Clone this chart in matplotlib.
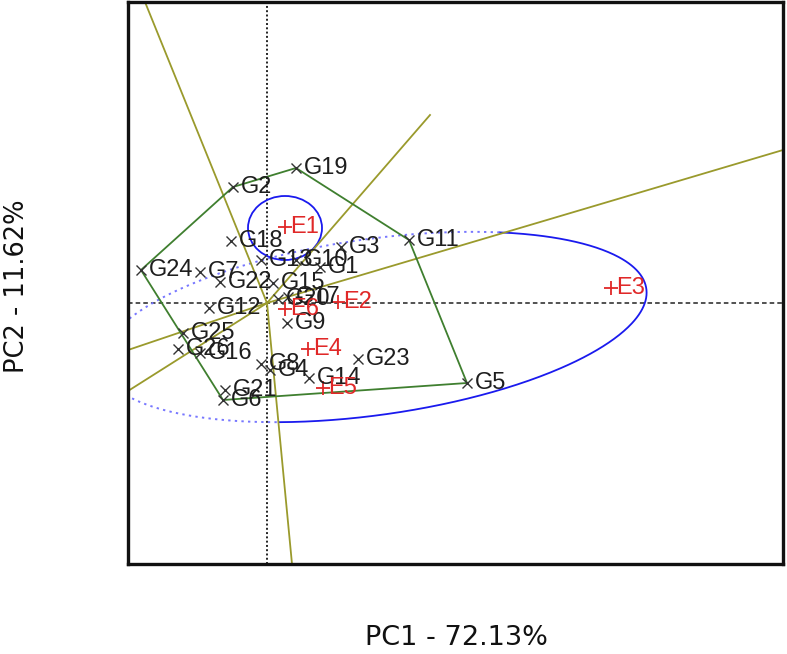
import matplotlib
matplotlib.use("Agg")
import matplotlib.pyplot as plt
import numpy as np
from matplotlib.patches import Ellipse

# ---- data (biplot scores) ----
genotypes = ["G1", "G2", "G3", "G4", "G5", "G6", "G7", "G8", "G9", "G10",
             "G11", "G12", "G13", "G14", "G15", "G16", "G17", "G18", "G19", "G20",
             "G21", "G22", "G23", "G24", "G25", "G26"]
gen_x = [1.06, -0.68, 1.48, 0.06, 4.00, -0.88, -1.34, -0.12, 0.40, 0.58,
         2.84, -1.16, -0.12, 0.84, 0.12, -1.34, 0.42, -0.72, 0.58, 0.22,
         -0.84, -0.94, 1.82, -2.52, -1.68, -1.78]
gen_y = [0.72, 2.32, 1.12, -1.34, -1.60, -1.94, 0.62, -1.22, -0.40, 0.86,
         1.26, -0.10, 0.86, -1.50, 0.40, -1.00, 0.12, 1.24, 2.70, 0.08,
         -1.74, 0.42, -1.12, 0.66, -0.60, -0.92]

environments = ["E1", "E2", "E3", "E4", "E5", "E6"]
env_x = [0.36, 1.42, 6.88, 0.82, 1.12, 0.36]
env_y = [1.52, 0.02, 0.30, -0.92, -1.70, -0.12]

hull_order = ["G19", "G11", "G5", "G6", "G24", "G2"]

# far ends of the rays drawn from the origin
ray_end_x = [-2.44, 3.26, 10.32, 0.50, -2.78, -2.78]
ray_end_y = [6.02, 3.76, 3.06, -5.22, -0.94, -1.76]

# E1 circle and large ellipse
e1_circle = (0.36, 1.50, 1.48, 1.28)           # cx, cy, width, height
big_ellipse = (2.14, -0.48, 5.50, 1.76, 8.0)   # cx, cy, semi-a, semi-b, angle deg
solid_arc = (-113.0, 60.0)                      # parameter range drawn solid

x_limits = (-2.78, 10.32)
y_limits = (-5.22, 6.02)
xlabel = "PC1 - 72.13%"
ylabel = "PC2 - 11.62%"

# ---- figure ----
W, H = 787, 654
fig = plt.figure(figsize=(W / 100, H / 100), dpi=100)
ax = fig.add_axes([128 / W, 90 / H, 655 / W, 562 / H])
ax.set_xlim(*x_limits)
ax.set_ylim(*y_limits)
ax.set_xticks([])
ax.set_yticks([])
for s in ax.spines.values():
    s.set_linewidth(2.4)
    s.set_color("#111111")

# origin reference lines
ax.axhline(0, color="#222222", lw=1.1, ls=(0, (3, 2)), zorder=1)
ax.axvline(0, color="#222222", lw=1.4, ls=(0, (1, 1.2)), zorder=1)

# big ellipse, solid and dotted parts
cx, cy, a, b, ang = big_ellipse
th = np.deg2rad(ang)
def ell(t):
    t = np.deg2rad(t)
    xx = cx + a * np.cos(t) * np.cos(th) - b * np.sin(t) * np.sin(th)
    yy = cy + a * np.cos(t) * np.sin(th) + b * np.sin(t) * np.cos(th)
    return xx, yy
ts = np.linspace(solid_arc[0], solid_arc[1], 300)
ax.plot(*ell(ts), color="#1a1aee", lw=1.3, zorder=2)
td = np.linspace(solid_arc[1], solid_arc[0] + 360, 400)
ax.plot(*ell(td), color="#7777ff", lw=1.4, ls=(0, (1.2, 2.2)), zorder=2)

# E1 circle
ax.add_patch(Ellipse((e1_circle[0], e1_circle[1]), e1_circle[2], e1_circle[3],
                     fill=False, ec="#1a1aee", lw=1.3, zorder=2))

# rays
for rx, ry in zip(ray_end_x, ray_end_y):
    ax.plot([0, rx], [0, ry], color="#9a9a2c", lw=1.3, zorder=2)

# polygon
idx = [genotypes.index(g) for g in hull_order] + [genotypes.index(hull_order[0])]
ax.plot([gen_x[i] for i in idx], [gen_y[i] for i in idx], color="#3f7f2f", lw=1.3, zorder=3)

# genotype points
ax.plot(gen_x, gen_y, ls="none", marker="x", ms=7.5, mew=1.0, color="#333333", zorder=4)
for g, x, y in zip(genotypes, gen_x, gen_y):
    ax.annotate(g, (x, y), xytext=(5.5, 0), textcoords="offset points",
                va="center", ha="left", fontsize=17, color="#1e1e1e",
                family="Liberation Sans", zorder=5)

# environment points
ax.plot(env_x, env_y, ls="none", marker="+", ms=10, mew=1.3, color="#e02828", zorder=4)
for e, x, y in zip(environments, env_x, env_y):
    ax.annotate(e, (x, y), xytext=(4, 0), textcoords="offset points",
                va="center", ha="left", fontsize=17, color="#e02828",
                family="Liberation Sans", zorder=5)

fig.text(456 / W, 1 - 638 / H, xlabel, ha="center", va="center", fontsize=19.5,
         family="DejaVu Sans", color="#111111")
fig.text(17 / W, 1 - 286 / H, ylabel, ha="center", va="center", rotation=90,
         fontsize=18.5, family="DejaVu Sans", color="#111111")

fig.savefig("out.png", dpi=100)
